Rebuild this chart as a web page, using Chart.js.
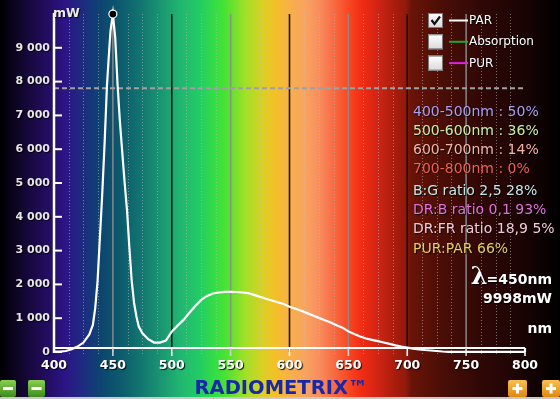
<!DOCTYPE html>
<html>
<head>
<meta charset="utf-8">
<script src="https://cdn.jsdelivr.net/npm/chart.js@4.4.1/dist/chart.umd.min.js"></script>
<style>
  html, body { margin: 0; padding: 0; background: #000; }
  canvas { display: block; }
</style>
</head>
<body>
<canvas id="c" width="560" height="399"></canvas>
<script>
// ---- data ----
const wavelengths = [400,405,410,415,420,425,430,433,435,437,439,441,443,445,447,448,450,452,454,456,458,460,462,464,466,468,470,472,475,480,485,490,495,
  500,505,510,515,520,525,530,535,540,545,550,555,560,565,570,575,580,585,590,595,
  600,605,610,615,620,625,630,635,640,645,650,655,660,665,670,675,680,685,690,695,
  700,705,710,715,720,725,730,735,740,750,760,770,780,790,800];
const parValues = [10,10,30,80,160,280,520,800,1300,2100,3400,4700,6200,7900,9000,9500,9998,9300,7900,6800,5900,5000,4200,3100,2100,1450,1050,750,560,380,280,280,340,
  600,780,950,1160,1360,1540,1660,1730,1760,1780,1780,1775,1760,1740,1690,1630,1575,1525,1470,1420,
  1340,1280,1220,1150,1080,1010,940,870,790,720,610,530,460,400,360,320,280,240,195,160,
  130,100,80,60,45,30,15,5,5,5,5,5,5,5,5];
const peakPoint = { nm: 450, mW: 9998 };
const refLevel = [7800];
const xRange = [400, 800];
const yRange = [0, 10000];
const legendItems = ['PAR', 'Absorption', 'PUR'];
const legendChecked = [true, false, false];
const statLines = ['400-500nm : 50%', '500-600nm : 36%', '600-700nm : 14%', '700-800nm : 0%'];
const ratioLines = ['B:G ratio 2,5 28%', 'DR:B ratio 0,1 93%', 'DR:FR ratio 18,9 5%', 'PUR:PAR 66%'];
const yUnit = 'mW';
const xUnit = 'nm';
const brand = 'RADIOMETRIX\u2122';

// ---- styles ----
const legendColors = ['#ffffff', '#1fa82a', '#e020e0'];
const statColors = ['#aa9ef2', '#c8eea2', '#f4b4a4', '#f2604e'];
const ratioColors = ['#c4e6e2', '#e070e0', '#f4c8d8', '#e8cc60'];
const bgStops = [
  [0,'#000000'],[20,'#10062a'],[45,'#220c5c'],[65,'#2c1486'],[85,'#1c2e80'],[100,'#0c4470'],
  [120,'#0c5a6c'],[140,'#127470'],[160,'#1a9470'],[180,'#20b670'],[200,'#24cc64'],[215,'#34de44'],
  [225,'#48e234'],[245,'#a0e028'],[262,'#d8d024'],[275,'#f4c028'],[290,'#f8b048'],[305,'#f8a460'],
  [320,'#f88c5c'],[335,'#f86840'],[350,'#f84420'],[362,'#f02c14'],[378,'#d02414'],[395,'#a81c0c'],
  [406,'#901a0c'],[411,'#6a1408'],[440,'#4c0e06'],[480,'#300806'],[520,'#1c0404'],[560,'#000000']
];

function shadowOn(ctx){ ctx.shadowColor='rgba(0,0,0,0.9)'; ctx.shadowOffsetX=1; ctx.shadowOffsetY=1; ctx.shadowBlur=1; }
function shadowOff(ctx){ ctx.shadowColor='rgba(0,0,0,0)'; ctx.shadowOffsetX=0; ctx.shadowOffsetY=0; ctx.shadowBlur=0; }

const decor = {
  id: 'decor',
  beforeDraw(chart) {
    const ctx = chart.ctx, W = chart.width, H = chart.height;
    const a = chart.chartArea, xs = chart.scales.x, ys = chart.scales.y;
    ctx.save();
    const g = ctx.createLinearGradient(0, 0, W, 0);
    bgStops.forEach(s => g.addColorStop(s[0] / W, s[1]));
    ctx.fillStyle = g;
    ctx.fillRect(0, 0, W, H);
    // minor dotted grid every 12.5 nm
    ctx.lineWidth = 1;
    ctx.setLineDash([1, 2]);
    ctx.strokeStyle = 'rgba(190,190,190,0.55)';
    for (let v = xRange[0] + 12.5; v < xRange[1]; v += 12.5) {
      if (v % 50 === 0) continue;
      const x = Math.round(xs.getPixelForValue(v)) + 0.5;
      ctx.beginPath(); ctx.moveTo(x, a.top); ctx.lineTo(x, a.bottom + 3); ctx.stroke();
    }
    ctx.setLineDash([]);
    // major lines every 50 nm
    for (let v = 450; v < xRange[1]; v += 50) {
      const x = xs.getPixelForValue(v);
      ctx.strokeStyle = (v % 100 === 0) ? 'rgba(10,10,10,0.9)' : 'rgba(140,140,140,0.9)';
      ctx.lineWidth = 1.6;
      ctx.beginPath(); ctx.moveTo(x, a.top); ctx.lineTo(x, a.bottom); ctx.stroke();
    }
    // reference dashed line
    const ry = ys.getPixelForValue(refLevel[0]);
    ctx.strokeStyle = '#a0a0a0';
    ctx.lineWidth = 2;
    ctx.setLineDash([5, 3]);
    ctx.beginPath(); ctx.moveTo(a.left, ry); ctx.lineTo(a.right, ry); ctx.stroke();
    ctx.setLineDash([]);
    ctx.restore();
    shadowOn(ctx);
  },
  beforeDatasetsDraw(chart) {
    const ctx = chart.ctx, a = chart.chartArea, xs = chart.scales.x, ys = chart.scales.y;
    shadowOff(ctx);
    ctx.save();
    ctx.strokeStyle = '#ffffff';
    // y axis
    ctx.lineWidth = 2.5;
    ctx.beginPath(); ctx.moveTo(a.left, a.top - 1); ctx.lineTo(a.left, a.bottom + 1); ctx.stroke();
    // y ticks (inward)
    ctx.lineWidth = 2;
    ys.ticks.forEach(t => {
      if (t.value >= yRange[1]) return;
      const y = ys.getPixelForValue(t.value);
      ctx.beginPath(); ctx.moveTo(a.left, y); ctx.lineTo(a.left + 8, y); ctx.stroke();
    });
    // x axis line (drawn slightly above zero level, as in the meter display)
    const axY = a.bottom - 4;
    ctx.lineWidth = 2.2;
    ctx.beginPath(); ctx.moveTo(a.left, axY); ctx.lineTo(a.right, axY); ctx.stroke();
    ctx.beginPath(); ctx.moveTo(a.right, axY); ctx.lineTo(a.right, a.bottom); ctx.stroke();
    // x ticks
    ctx.lineWidth = 1.6;
    xs.ticks.forEach(t => {
      if (t.value === xRange[0]) return;
      const x = xs.getPixelForValue(t.value);
      ctx.strokeStyle = (t.value % 100 === 0) ? '#ffffff' : '#cfcfcf';
      ctx.beginPath(); ctx.moveTo(x, axY); ctx.lineTo(x, a.bottom + 4); ctx.stroke();
    });
    ctx.restore();
  },
  afterDraw(chart) {
    const ctx = chart.ctx, a = chart.chartArea;
    ctx.save();
    shadowOn(ctx);
    ctx.textBaseline = 'middle';
    // y unit
    ctx.fillStyle = '#ececec';
    ctx.font = 'bold 12.5px "DejaVu Sans"';
    ctx.textAlign = 'left';
    ctx.fillText(yUnit, a.left - 1, 14);
    // legend
    legendItems.forEach((name, i) => {
      const cy = 20.5 + i * 21.3;
      shadowOff(ctx);
      const bx = 428, by = cy - 7.5;
      const bg = ctx.createLinearGradient(0, by, 0, by + 15);
      bg.addColorStop(0, '#ffffff'); bg.addColorStop(1, '#d8d8d8');
      ctx.fillStyle = bg;
      ctx.fillRect(bx, by, 15, 15);
      ctx.strokeStyle = '#7a7a7a'; ctx.lineWidth = 1;
      ctx.strokeRect(bx + 0.5, by + 0.5, 14, 14);
      if (legendChecked[i]) {
        ctx.strokeStyle = '#111'; ctx.lineWidth = 2.2;
        ctx.beginPath(); ctx.moveTo(bx + 3.5, by + 7); ctx.lineTo(bx + 6.5, by + 11); ctx.lineTo(bx + 12, by + 3.5); ctx.stroke();
      }
      ctx.strokeStyle = legendColors[i]; ctx.lineWidth = 2;
      ctx.beginPath(); ctx.moveTo(449, cy); ctx.lineTo(468, cy); ctx.stroke();
      shadowOn(ctx);
      ctx.fillStyle = '#ffffff';
      ctx.font = '12px "DejaVu Sans"';
      ctx.textAlign = 'left';
      ctx.fillText(name, 469, cy + 0.5);
    });
    // stats
    ctx.font = '14px "DejaVu Sans"';
    ctx.textAlign = 'left';
    statLines.forEach((s, i) => { ctx.fillStyle = statColors[i]; ctx.fillText(s, 413, 112 + i * 19); });
    ratioLines.forEach((s, i) => { ctx.fillStyle = ratioColors[i]; ctx.fillText(s, 413, 191 + i * 19.4); });
    // lambda readout
    ctx.fillStyle = '#ffffff';
    ctx.textAlign = 'right';
    ctx.font = 'bold 14px "DejaVu Sans"';
    const peakTxt = '=' + peakPoint.nm + 'nm';
    ctx.fillText(peakTxt, 552, 280);
    const w = ctx.measureText(peakTxt).width;
    ctx.font = 'bold 24px "DejaVu Serif"';
    ctx.fillText('\u03bb', 552 - w + 1, 278);
    ctx.font = 'bold 14px "DejaVu Sans"';
    ctx.fillText(peakPoint.mW + 'mW', 552, 299);
    ctx.fillText(xUnit, 552, 329);
    // brand
    shadowOff(ctx);
    ctx.fillStyle = '#c8c8c8';
    ctx.fillRect(0, 397, chart.width, 2);
    ctx.textAlign = 'center';
    ctx.font = 'bold 19.5px "DejaVu Sans"';
    ctx.fillStyle = '#1828a8';
    ctx.fillText(brand, 281, 389);
    // buttons
    function btn(x, y, w, h, c1, c2, plus) {
      const bg = ctx.createLinearGradient(0, y, 0, y + h);
      bg.addColorStop(0, c1); bg.addColorStop(1, c2);
      ctx.fillStyle = bg;
      ctx.beginPath();
      ctx.roundRect ? ctx.roundRect(x, y, w, h, 2) : ctx.rect(x, y, w, h);
      ctx.fill();
      ctx.fillStyle = '#ffffff';
      const cx = x + w / 2, cy = y + h / 2;
      ctx.fillRect(cx - 5, cy - 1.5, 10, 3);
      if (plus) ctx.fillRect(cx - 1.5, cy - 5, 3, 10);
    }
    btn(0, 380, 16, 17, '#8ad050', '#3c8c1c', false);
    btn(28, 380, 17, 17, '#8ad050', '#3c8c1c', false);
    btn(508, 380, 19, 17, '#f8c050', '#e08810', true);
    btn(542, 380, 18, 17, '#f8c050', '#e08810', true);
    ctx.restore();
  }
};

const points = wavelengths.map((nm, i) => ({ x: nm, y: parValues[i] }));

new Chart(document.getElementById('c'), {
  type: 'line',
  data: {
    datasets: [
      {
        label: 'PAR',
        data: points,
        order: 2,
        borderColor: '#ffffff',
        borderWidth: 2.2,
        pointRadius: 0,
        tension: 0,
        fill: false,
        clip: false
      },
      {
        label: 'peak',
        data: [{ x: peakPoint.nm, y: peakPoint.mW }],
        order: 1,
        showLine: false,
        pointRadius: 4,
        pointBackgroundColor: '#000000',
        pointBorderColor: '#ffffff',
        pointBorderWidth: 1.2,
        clip: false
      }
    ]
  },
  options: {
    responsive: false,
    animation: false,
    devicePixelRatio: 1,
    layout: { padding: { left: 0, right: 35, top: 14, bottom: 0 } },
    plugins: { legend: { display: false }, tooltip: { enabled: false } },
    scales: {
      x: {
        type: 'linear',
        min: xRange[0], max: xRange[1],
        ticks: { stepSize: 50, color: '#ffffff', font: { family: 'DejaVu Sans', size: 12.5, weight: 'bold' }, padding: 6, maxRotation: 0, autoSkip: false },
        grid: { display: false, drawTicks: false },
        border: { display: false },
        afterFit: s => { s.height = 47; }
      },
      y: {
        min: yRange[0], max: yRange[1],
        ticks: {
          stepSize: 1000,
          color: '#e6e6e6',
          font: { family: 'DejaVu Sans', size: 11, weight: 'bold' },
          padding: 4,
          callback: v => v >= yRange[1] ? '' : (v >= 1000 ? Math.floor(v / 1000) + ' 000' : String(v))
        },
        grid: { display: false, drawTicks: false },
        border: { display: false },
        afterFit: s => { s.width = 54; }
      }
    }
  },
  plugins: [decor]
});
</script>
</body>
</html>
